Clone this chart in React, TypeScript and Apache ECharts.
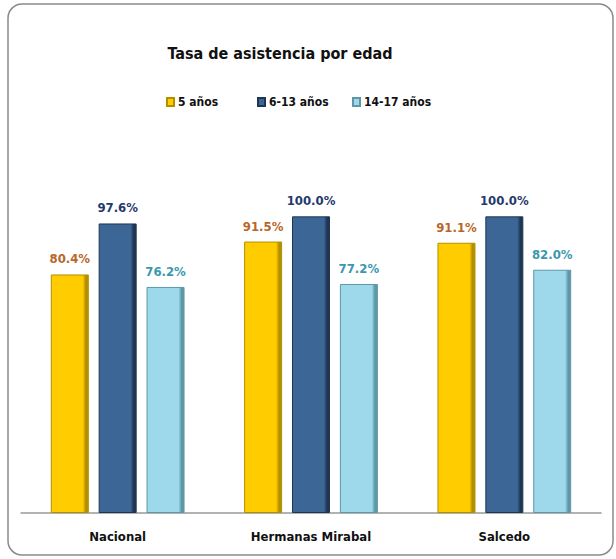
import React, { useEffect, useRef } from "react";
import * as echarts from "echarts";

const categories = ["Nacional", "Hermanas Mirabal", "Salcedo"];
const seriesNames = ["5 años", "6-13 años", "14-17 años"];
const v5 = [80.4, 91.5, 91.1];
const v613 = [97.6, 100.0, 100.0];
const v1417 = [76.2, 77.2, 82.0];

const colors = [
  { base: "#FFCC00", light: "#FFE066", dark: "#B38F00", label: "#B8662A" },
  { base: "#3B6696", light: "#6D93BE", dark: "#1E3654", label: "#1F3A6E" },
  { base: "#9DD9EA", light: "#CDEFF8", dark: "#5E97A8", label: "#3A98AE" },
];

const legendLefts = [166, 257, 352];

function grad(c: any) {
  return new echarts.graphic.LinearGradient(0, 0, 1, 0, [
    { offset: 0, color: c.base },
    { offset: 0.85, color: c.base },
    { offset: 0.93, color: c.dark },
    { offset: 1, color: c.dark },
  ]);
}

export default function App() {
  const ref = useRef<HTMLDivElement>(null);
  useEffect(() => {
    const chart = echarts.init(ref.current!, null, { renderer: "svg" });
    const data = [v5, v613, v1417];
    const font = "'DejaVu Sans Condensed', Lato, sans-serif";
    chart.setOption({
      animation: false,
      backgroundColor: "#ffffff",
      title: {
        text: "Tasa de asistencia por edad",
        left: 275,
        textAlign: "center",
        top: 40,
        textStyle: { fontFamily: font, fontSize: 16, fontWeight: "bold", color: "#111" },
      },
      legend: seriesNames.map((n, i) => ({
        data: [{ name: n, itemStyle: { color: grad(colors[i]) } }],
        top: 96,
        left: legendLefts[i],
        padding: 0,
        itemWidth: 7,
        itemHeight: 8,
        itemGap: 0,
        icon: "rect",
        textStyle: { fontFamily: font, fontSize: 12, fontWeight: "bold", color: "#111", padding: [0, 0, 0, -1] },
      })),
      grid: { left: 21, right: 15, top: 157, bottom: 46 },
      xAxis: {
        type: "category",
        data: categories,
        axisLine: { lineStyle: { color: "#999", width: 1.5 } },
        axisTick: { show: false },
        axisLabel: { fontFamily: font, fontSize: 13, fontWeight: "bold", color: "#111", margin: 17 },
      },
      yAxis: {
        type: "value",
        min: 0,
        max: 120,
        show: false,
        splitLine: { show: false },
      },
      series: data.map((d, i) => ({
        name: seriesNames[i],
        type: "bar",
        data: d,
        barWidth: 38,
        barGap: "26%",
        itemStyle: {
          color: grad(colors[i]),
          borderColor: colors[i].dark,
          borderWidth: 1,
        },
        label: {
          show: true,
          position: "top",
          distance: 9,
          formatter: (p: any) => p.value.toFixed(1) + "%",
          fontFamily: font,
          fontSize: 13,
          fontWeight: "bold",
          color: colors[i].label,
        },
      })),
      graphic: [
        {
          type: "rect",
          shape: { x: 8, y: 4, width: 605, height: 551, r: 14 },
          style: { fill: "none", stroke: "#8a8a8a", lineWidth: 1.5 },
          silent: true,
        },
      ],
    });
    return () => chart.dispose();
  }, []);
  return <div ref={ref} style={{ width: 616, height: 559, position: "absolute", left: 0, top: 0 }} />;
}
